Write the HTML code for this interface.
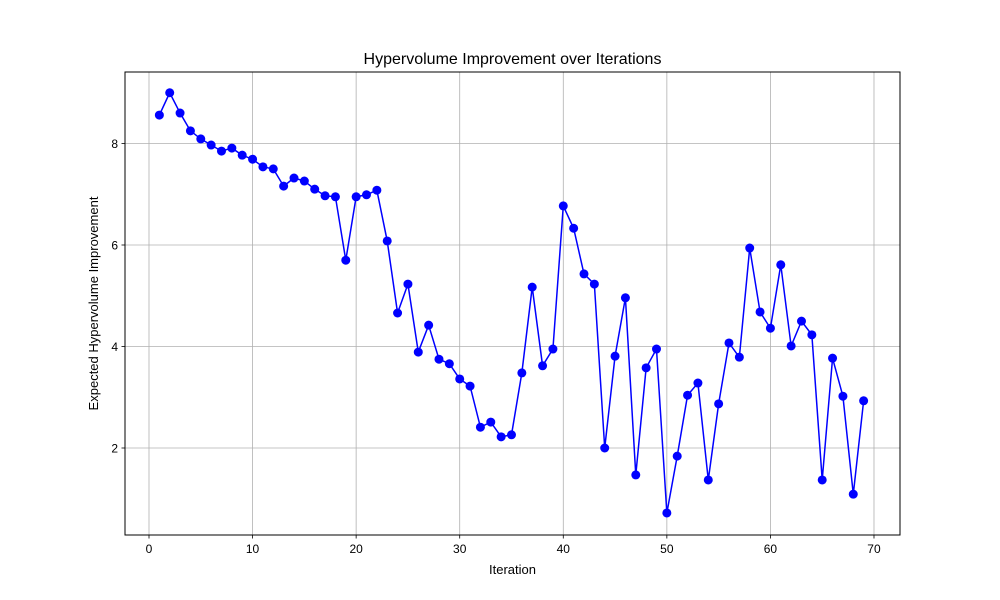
<!DOCTYPE html>
<html><head><meta charset="utf-8"><style>
html,body{margin:0;padding:0;background:#fff;}
svg{display:block;font-family:"Liberation Sans","DejaVu Sans",sans-serif;}
</style></head><body>
<svg id="chart" width="1000" height="600" viewBox="0 0 1000 600" xmlns="http://www.w3.org/2000/svg">
<rect width="1000" height="600" fill="#fff"/>
<g id="grid"></g>
<g id="axes"></g>
<g id="series"></g>
<rect x="125" y="72" width="775" height="463" fill="none" stroke="#000" stroke-width="1"/>
<text x="512.5" y="64" font-size="16" text-anchor="middle">Hypervolume Improvement over Iterations</text>
<text x="512.5" y="574" font-size="13" text-anchor="middle">Iteration</text>
<text transform="translate(98,303.5) rotate(-90)" font-size="13" text-anchor="middle">Expected Hypervolume Improvement</text>
</svg>
<script>
const iterations = [];
for (let i = 1; i <= 69; i++) iterations.push(i);
const hvValues = [8.56,9.0,8.6,8.25,8.09,7.97,7.85,7.91,7.77,7.69,7.54,7.50,7.16,7.32,7.26,7.10,6.97,6.95,5.70,6.95,6.99,7.08,6.08,4.66,5.23,3.89,4.42,3.75,3.66,3.36,3.22,2.41,2.51,2.22,2.26,3.48,5.17,3.62,3.95,6.77,6.33,5.43,5.23,2.0,3.81,4.96,1.47,3.58,3.95,0.72,1.84,3.04,3.28,1.37,2.87,4.07,3.79,5.94,4.68,4.36,5.61,4.01,4.50,4.23,1.37,3.77,3.02,1.09,2.93];
const xTicks = [0,10,20,30,40,50,60,70];
const yTicks = [2,4,6,8];

const NS = "http://www.w3.org/2000/svg";
const X0 = 125, X1 = 900, Y0 = 72, Y1 = 535;
function xScale(v){ return 149 + v * 10.357; }
function yScale(v){ return 549.5 - v * 50.75; }
function mk(tag, attrs, parent){
  const e = document.createElementNS(NS, tag);
  for (const k in attrs) e.setAttribute(k, attrs[k]);
  parent.appendChild(e); return e;
}
const grid = document.getElementById('grid');
const axes = document.getElementById('axes');
const series = document.getElementById('series');

xTicks.forEach(t => {
  const x = xScale(t);
  const g = mk('line', {x1:x, x2:x, y1:Y0, y2:Y1, stroke:'#b0b0b0', 'stroke-width':0.8}, grid);
  
  
  const tk = mk('line', {x1:x, x2:x, y1:Y1, y2:Y1+3.5, stroke:'#000', 'stroke-width':0.8}, axes);
  
  
  const lb = mk('text', {x:x, y:Y1+18, 'font-size':12, 'text-anchor':'middle'}, axes);
  lb.textContent = t;
  
  
});
yTicks.forEach(t => {
  const y = yScale(t);
  const g = mk('line', {x1:X0, x2:X1, y1:y, y2:y, stroke:'#b0b0b0', 'stroke-width':0.8}, grid);
  
  
  const tk = mk('line', {x1:X0-3.5, x2:X0, y1:y, y2:y, stroke:'#000', 'stroke-width':0.8}, axes);
  
  
  const lb = mk('text', {x:X0-7, y:y+4.5, 'font-size':12, 'text-anchor':'end'}, axes);
  lb.textContent = t;
  
  
});

const pts = iterations.map((it, i) => xScale(it).toFixed(2) + ',' + yScale(hvValues[i]).toFixed(2)).join(' ');
const line = mk('polyline', {points:pts, fill:'none', stroke:'#0000ff', 'stroke-width':1.5}, series);


iterations.forEach((it, i) => {
  const c = mk('circle', {cx:xScale(it), cy:yScale(hvValues[i]), r:4.5, fill:'#0000ff'}, series);
  
  
});
</script>
</body></html>
